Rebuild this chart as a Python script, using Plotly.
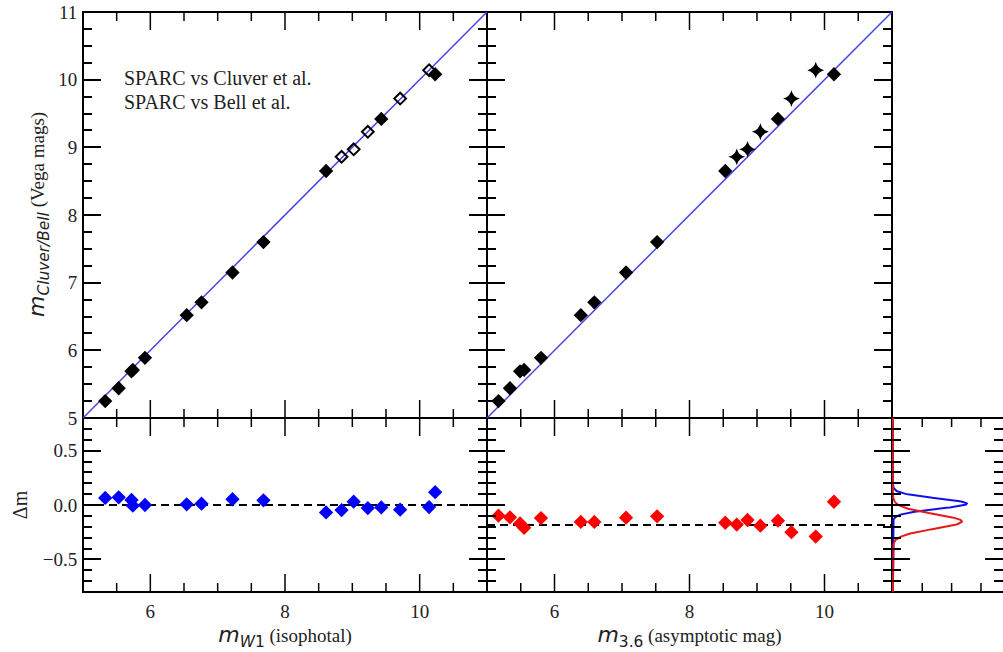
import numpy as np
import plotly.graph_objects as go

# ---------------- data ----------------
# reference magnitude (Cluver / Bell), same galaxies in both panels
m_ref = [5.25, 5.44, 5.69, 5.71, 5.89, 6.52, 6.71, 7.15, 7.60, 8.65,
         8.86, 8.97, 9.23, 9.42, 9.72, 10.14, 10.08]
# True where the comparison is with Bell et al.
is_bell = [False, False, False, False, False, False, False, False, False, False,
           True, True, True, False, True, True, False]
# SPARC W1 isophotal magnitudes
m_w1 = [5.33, 5.53, 5.72, 5.74, 5.92, 6.54, 6.76, 7.22, 7.68, 8.61,
        8.84, 9.02, 9.23, 9.43, 9.71, 10.14, 10.23]
# SPARC 3.6 micron asymptotic magnitudes
m_36 = [5.17, 5.34, 5.49, 5.55, 5.80, 6.39, 6.59, 7.06, 7.52, 8.53,
        8.70, 8.86, 9.05, 9.31, 9.51, 9.87, 10.14]
# residuals
dm_w1 = [0.065, 0.071, 0.047, -0.006, 0.000, 0.006, 0.012, 0.053, 0.043, -0.068,
         -0.047, 0.031, -0.028, -0.022, -0.043, -0.019, 0.118]
dm_36 = [-0.098, -0.113, -0.170, -0.210, -0.120, -0.156, -0.156, -0.117, -0.104, -0.163,
         -0.180, -0.138, -0.190, -0.144, -0.250, -0.290, 0.030]
offset_w1 = 0.0
offset_36 = -0.184
one_to_one = [5, 11]
gauss_peak_w1 = 2.52
gauss_peak_36 = 2.35

# x tick positions (axis decoration)
major_x = [6, 8, 10]
minor_x = [5.5, 6.5, 7.0, 7.5, 8.5, 9.0, 9.5, 10.5]
hist_x_ticks = [1, 2, 3]

# ---------------- layout geometry ----------------
W, H = 1003, 652
X0, X1, X2, X3 = 83 / W, 487 / W, 892 / W, 1.0
YB, YM, YT = 1 - 592 / H, 1 - 418 / H, 1 - 12 / H
MAG_RANGE = [5, 11]
DM_RANGE = [-0.8, 0.8]
HIST_RANGE = [-0.03, 3.75]

SERIF = "Liberation Serif"
BLK = "black"
NOLINE = "rgba(0,0,0,0)"

fig = go.Figure()

def sel(arr, mask, keep=True):
    return [a for a, m in zip(arr, mask) if m == keep]

# ---- top-left
fig.add_trace(go.Scatter(x=one_to_one, y=one_to_one, mode="lines",
                         line=dict(color="#4646e6", width=1.5), xaxis="x", yaxis="y"))
fig.add_trace(go.Scatter(x=sel(m_w1, is_bell, False), y=sel(m_ref, is_bell, False), mode="markers",
                         marker=dict(symbol="diamond", size=11, color=BLK), xaxis="x", yaxis="y"))
fig.add_trace(go.Scatter(x=sel(m_w1, is_bell, True), y=sel(m_ref, is_bell, True), mode="markers",
                         marker=dict(symbol="diamond-open", size=9, color=BLK, line=dict(width=2, color=BLK)),
                         xaxis="x", yaxis="y"))
# ---- top-right
fig.add_trace(go.Scatter(x=one_to_one, y=one_to_one, mode="lines",
                         line=dict(color="#4646e6", width=1.5), xaxis="x2", yaxis="y2"))
fig.add_trace(go.Scatter(x=sel(m_36, is_bell, False), y=sel(m_ref, is_bell, False), mode="markers",
                         marker=dict(symbol="diamond", size=11, color=BLK), xaxis="x2", yaxis="y2"))
fig.add_trace(go.Scatter(x=sel(m_36, is_bell, True), y=sel(m_ref, is_bell, True), mode="markers",
                         marker=dict(symbol="star-diamond", size=12, color=BLK), xaxis="x2", yaxis="y2"))
# ---- bottom-left residuals
fig.add_trace(go.Scatter(x=one_to_one, y=[offset_w1, offset_w1], mode="lines",
                         line=dict(color=BLK, width=1.8, dash="8px,5px"), xaxis="x3", yaxis="y3"))
fig.add_trace(go.Scatter(x=m_w1, y=dm_w1, mode="markers",
                         marker=dict(symbol="diamond", size=11, color="#0000ff"), xaxis="x3", yaxis="y3"))
# ---- bottom-right residuals
fig.add_trace(go.Scatter(x=one_to_one, y=[offset_36, offset_36], mode="lines",
                         line=dict(color=BLK, width=1.8, dash="8px,5px"), xaxis="x4", yaxis="y4"))
fig.add_trace(go.Scatter(x=m_36, y=dm_36, mode="markers",
                         marker=dict(symbol="diamond", size=11, color="#ff0000"), xaxis="x4", yaxis="y4"))
# ---- side panel: gaussians of the residual distributions
yy = np.linspace(DM_RANGE[0], DM_RANGE[1], 400)
mu1, s1 = np.mean(dm_w1), np.std(dm_w1)
mu2, s2 = np.mean(dm_36), np.std(dm_36)
fig.add_trace(go.Scatter(x=gauss_peak_w1 * np.exp(-(yy - mu1) ** 2 / (2 * s1 ** 2)), y=yy, mode="lines",
                         line=dict(color="#1010e8", width=2), xaxis="x5", yaxis="y5"))
fig.add_trace(go.Scatter(x=gauss_peak_36 * np.exp(-(yy - mu2) ** 2 / (2 * s2 ** 2)), y=yy, mode="lines",
                         line=dict(color="#e81818", width=2), xaxis="x5", yaxis="y5"))

# ---------------- axes ----------------
tickfont = dict(family=SERIF, size=19, color="#222")
title_font = dict(family=SERIF, size=19, color="#222")

def yaxis(domain, anchor, rng, dtick, minor_dtick, labels, **kw):
    d = dict(domain=domain, anchor=anchor, range=rng, dtick=dtick, tick0=0,
             showline=True, linecolor=NOLINE, linewidth=2, mirror="ticks",
             ticks="inside", ticklen=18, tickwidth=1.5, tickcolor=BLK,
             showgrid=False, zeroline=False, showticklabels=labels, tickfont=tickfont,
             automargin=False,
             minor=dict(ticks="inside", ticklen=9, tickwidth=1.5, tickcolor=BLK,
                        dtick=minor_dtick, tick0=0, showgrid=False))
    d.update(kw)
    return d

def xaxis(domain, anchor, rng, dtick, labels=False, **kw):
    d = dict(domain=domain, anchor=anchor, range=rng, dtick=dtick, tick0=0, side="bottom",
             showline=False, mirror=False, ticks="", showgrid=False, zeroline=False,
             showticklabels=labels, tickfont=tickfont, automargin=False)
    d.update(kw)
    return d

# panel frames (axis-domain units)
frame = dict(type="rect", x0=0, x1=1, y0=0, y1=1, line=dict(color=BLK, width=2), layer="below")
shapes = [dict(frame, xref=f"x{s} domain", yref=f"y{s} domain") for s in ["", "2", "3", "4"]]
shapes += [
    dict(type="line", xref="x5 domain", yref="y5 domain", x0=0, x1=1, y0=1, y1=1,
         line=dict(color=BLK, width=2), layer="below"),
    dict(type="line", xref="x5 domain", yref="y5 domain", x0=0, x1=1, y0=0, y1=0,
         line=dict(color=BLK, width=2), layer="below"),
]

# x-axis tick marks on the top and bottom edges, pointing into each panel
def edge_ticks(xref, yref, values, length):
    out = []
    for v in values:
        for anchor, sign in [(0, 1), (1, -1)]:
            out.append(dict(type="line", xref=xref, yref=f"{yref} domain", x0=v, x1=v,
                            ysizemode="pixel", yanchor=anchor, y0=0, y1=sign * length,
                            line=dict(color=BLK, width=1.5), layer="above"))
    return out

for s in ["", "2", "3", "4"]:
    shapes += edge_ticks(f"x{s}", f"y{s}", major_x, 18)
    shapes += edge_ticks(f"x{s}", f"y{s}", minor_x, 9)
shapes += edge_ticks("x5", "y5", hist_x_ticks, 9)

fig.update_layout(
    width=W, height=H,
    margin=dict(l=0, r=0, t=0, b=0, autoexpand=False),
    paper_bgcolor="white", plot_bgcolor="rgba(0,0,0,0)",
    showlegend=False,
    xaxis=xaxis([X0, X1], "y", MAG_RANGE, 2),
    xaxis2=xaxis([X1, X2], "y2", MAG_RANGE, 2),
    yaxis=yaxis([YM, YT], "x", MAG_RANGE, 1, 0.25, True),
    yaxis2=yaxis([YM, YT], "x2", MAG_RANGE, 1, 0.25, False),
    xaxis3=xaxis([X0, X1], "y3", MAG_RANGE, 2, labels=True, ticklabelstandoff=6,
                 title=dict(text='<span style="font-family:DejaVu Sans;font-size:22px"><i>m</i><sub><i>W</i>1</sub></span> (isophotal)',
                            font=title_font, standoff=6)),
    xaxis4=xaxis([X1, X2], "y4", MAG_RANGE, 2, labels=True, ticklabelstandoff=6,
                 title=dict(text='<span style="font-family:DejaVu Sans;font-size:22px"><i>m</i><sub>3.6</sub></span> (asymptotic mag)',
                            font=title_font, standoff=6)),
    yaxis3=yaxis([YB, YM], "x3", DM_RANGE, 0.5, 0.1, True, tickformat=".1f",
                 title=dict(text="Δm", font=dict(family=SERIF, size=20, color="#222"), standoff=10)),
    yaxis4=yaxis([YB, YM], "x4", DM_RANGE, 0.5, 0.1, False),
    xaxis5=xaxis([X2, X3], "y5", HIST_RANGE, 1),
    yaxis5=yaxis([YB, YM], "x5", DM_RANGE, 0.5, 0.1, False),
    shapes=shapes,
    annotations=[
        dict(text='<span style="font-family:DejaVu Sans;font-size:22px"><i>m</i><sub><i>Cluver/Bell</i></sub></span> (Vega mags)',
             x=38 / W, y=1 - 215 / H, xref="paper", yref="paper", textangle=-90,
             xanchor="center", yanchor="middle", showarrow=False, font=title_font),
        dict(text="SPARC vs Cluver et al.", x=122 / W, y=1 - 78 / H, xref="paper", yref="paper",
             xanchor="left", yanchor="middle", showarrow=False, font=dict(family=SERIF, size=20, color="#222")),
        dict(text="SPARC vs Bell et al.", x=122 / W, y=1 - 102 / H, xref="paper", yref="paper",
             xanchor="left", yanchor="middle", showarrow=False, font=dict(family=SERIF, size=20, color="#222")),
    ],
)

fig.write_html("out.html")
